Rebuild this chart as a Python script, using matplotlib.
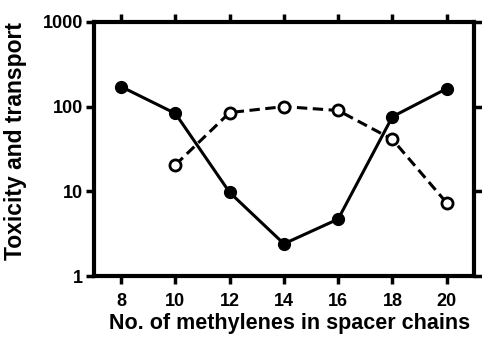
import matplotlib
matplotlib.use("Agg")
import matplotlib.pyplot as plt
from matplotlib.ticker import FixedLocator, NullLocator, FixedFormatter

# donnees
carbones_tox = [8, 10, 12, 14, 16, 18, 20]
toxicite = [172, 83, 9.7, 2.4, 4.7, 76, 163]
carbones_transp = [10, 12, 14, 16, 18, 20]
transport = [20.5, 85, 100, 90, 41, 7.3]
xticks = [8, 10, 12, 14, 16, 18, 20]
yticks = [1, 10, 100, 1000]
ylabels = ["1", "10", "100", "1000"]

plt.rcParams['font.family'] = ['Liberation Sans', 'DejaVu Sans']
plt.rcParams['font.weight'] = 'bold'

fig = plt.figure(figsize=(4.82, 3.37), dpi=100)
ax = fig.add_axes([0.195, 0.181, 0.788, 0.754])

ax.plot(carbones_transp, transport, color='black', lw=2.2, ls=(0, (3.4, 1.8)),
        marker='o', ms=8, mfc='white', mec='black', mew=2.0, zorder=2)
ax.plot(carbones_tox, toxicite, color='black', lw=2.2, marker='o', ms=8.5,
        mfc='black', mec='black', zorder=3)

ax.set_yscale('log')
ax.set_xlim(7, 21)
ax.set_ylim(1, 1000)
ax.xaxis.set_major_locator(FixedLocator(xticks))
ax.yaxis.set_major_locator(FixedLocator(yticks))
ax.yaxis.set_major_formatter(FixedFormatter(ylabels))
ax.yaxis.set_minor_locator(NullLocator())

for s in ax.spines.values():
    s.set_linewidth(3)
ax.tick_params(direction='out', length=6, width=2.5, labelsize=13,
               top=True, right=True, pad=2)
ax.tick_params(axis='x', pad=6)

ax.set_xlabel("No. of methylenes in spacer chains", fontsize=15.5,
              fontweight='bold')
ax.xaxis.set_label_coords(0.516, -0.145)
ax.set_ylabel("Toxicity and transport", fontsize=16.5, fontweight='bold')
ax.yaxis.set_label_coords(-0.176, 0.53)

plt.savefig('out.png', dpi=100)
